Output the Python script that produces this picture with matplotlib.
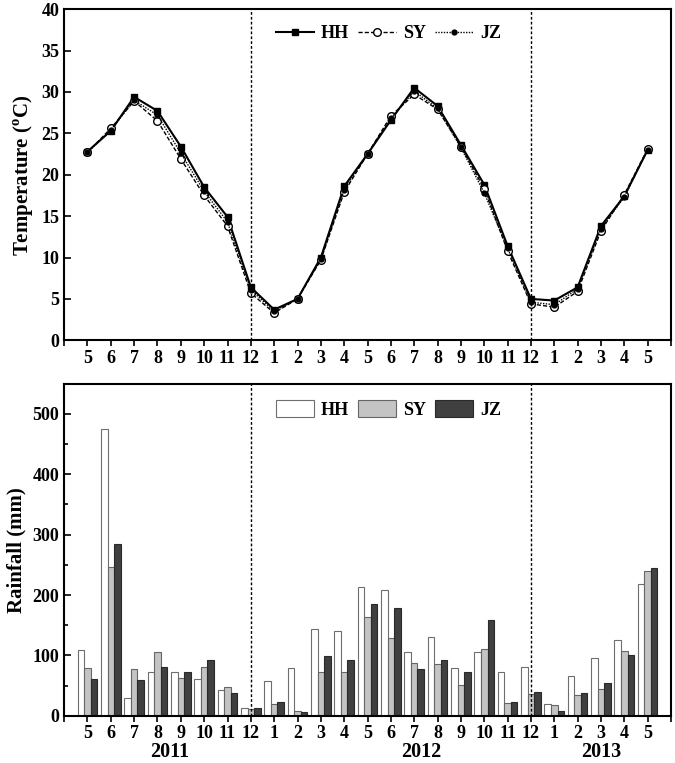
import numpy as np
import matplotlib
matplotlib.use("Agg")
import matplotlib.pyplot as plt

plt.rcParams['font.family'] = ['Liberation Serif', 'DejaVu Serif']
plt.rcParams['font.weight'] = 'bold'
plt.rcParams['mathtext.fontset'] = 'custom'
plt.rcParams['mathtext.rm'] = 'Liberation Serif:bold'

# month labels May 2011 .. May 2013
months = ['5', '6', '7', '8', '9', '10', '11', '12',
          '1', '2', '3', '4', '5', '6', '7', '8', '9', '10', '11', '12',
          '1', '2', '3', '4', '5']
years = ['2011', '2012', '2013']

# temperature (deg C)
temp_hh = [22.8, 25.3, 29.4, 27.7, 23.4, 18.5, 14.9, 6.4, 3.7, 5.0, 10.0, 18.6, 22.5,
           26.6, 30.5, 28.3, 23.6, 18.8, 11.4, 5.0, 4.8, 6.4, 13.8, 17.4, 23.0]
temp_sy = [22.7, 25.6, 28.9, 26.5, 21.9, 17.5, 13.8, 5.7, 3.3, 5.0, 9.7, 17.9, 22.5,
           27.1, 29.7, 27.9, 23.4, 18.3, 10.8, 4.4, 4.0, 5.9, 13.2, 17.6, 23.1]
temp_jz = [22.7, 25.4, 29.0, 27.2, 22.6, 18.0, 14.3, 6.1, 3.5, 5.0, 9.8, 18.2, 22.5,
           26.8, 30.1, 28.0, 23.3, 17.8, 11.1, 4.6, 4.3, 6.2, 13.5, 17.3, 23.0]

# rainfall (mm)
rain_hh = [109, 475, 29, 73, 73, 60, 43, 12, 58, 79, 143, 141, 214,
           209, 105, 130, 79, 105, 72, 80, 19, 65, 95, 125, 218]
rain_sy = [79, 246, 78, 106, 62, 80, 48, 11, 19, 8, 72, 72, 164,
           129, 88, 85, 51, 110, 21, 36, 17, 34, 44, 108, 240]
rain_jz = [61, 284, 59, 80, 73, 92, 37, 13, 23, 6, 99, 92, 185,
           178, 77, 92, 72, 158, 23, 39, 8, 37, 55, 101, 245]

x = np.arange(len(months))
year_breaks = [7, 19]
year_centers = [3.5, 14.3, 22]

fig = plt.figure(figsize=(6.75, 7.63), dpi=100)
ax1 = fig.add_axes([0.095, 0.554, 0.899, 0.434])
ax2 = fig.add_axes([0.095, 0.062, 0.899, 0.435])

# --- temperature ---
ax1.plot(x, temp_hh, color='black', lw=1.5, ls='-', marker='s', ms=5, label='HH')
ax1.plot(x, temp_sy, color='black', lw=1.0, ls=(0, (3, 1.5)), marker='o', ms=5.5,
         mfc='white', mec='black', label='SY')
ax1.plot(x, temp_jz, color='black', lw=1.0, ls=(0, (1, 1)), marker='o', ms=3.5,
         label='JZ')
ax1.set_ylim(0, 40)
ax1.set_yticks(range(0, 41, 5))
ax1.set_ylabel('Temperature ($^{\\mathrm{o}}$C)', fontsize=15, fontweight='bold',
               labelpad=4)
ax1.legend(loc='upper center', bbox_to_anchor=(0.535, 1.0), ncol=3, frameon=False,
           fontsize=13, handlelength=2.1, columnspacing=0.5, handletextpad=0.4)

# --- rainfall ---
w = 0.28
ax2.bar(x - w, rain_hh, w, color='white', edgecolor='#6e6e6e', lw=0.8, label='HH')
ax2.bar(x, rain_sy, w, color='#c4c4c4', edgecolor='#666666', lw=0.8, label='SY')
ax2.bar(x + w, rain_jz, w, color='#404040', edgecolor='#2a2a2a', lw=0.8, label='JZ')
ax2.set_ylim(0, 550)
ax2.set_yticks(range(0, 501, 100))
ax2.set_yticks(range(50, 551, 100), minor=True)
ax2.set_ylabel('Rainfall (mm)', fontsize=15, fontweight='bold', labelpad=4)
ax2.legend(loc='upper center', bbox_to_anchor=(0.535, 1.0), ncol=3, frameon=False,
           fontsize=13, handlelength=2.1, handleheight=1.05, columnspacing=0.5,
           handletextpad=0.4)
for c, yr in zip(year_centers, years):
    ax2.text(c, -0.078, yr, transform=ax2.get_xaxis_transform(), ha='center',
             va='top', fontsize=14.5, fontweight='bold')

for ax in (ax1, ax2):
    ax.set_xlim(-1, 25)
    ax.set_xticks(np.arange(-1, 26))
    ax.set_xticklabels([''] + months + [''])
    for b in year_breaks:
        ax.axvline(b, color='black', lw=1.0, ls=(0, (2, 1.5)))
    ax.tick_params(axis='x', direction='out', length=4, width=1.2, labelsize=13, pad=3)
    ax.tick_params(axis='y', which='both', direction='in', width=1.2, labelsize=13)
    ax.tick_params(axis='y', which='major', length=5)
    ax.tick_params(axis='y', which='minor', length=3)
    for s in ax.spines.values():
        s.set_linewidth(1.5)
    for lab in ax.get_xticklabels() + ax.get_yticklabels():
        lab.set_fontweight('bold')

fig.savefig('out.png', dpi=100)
